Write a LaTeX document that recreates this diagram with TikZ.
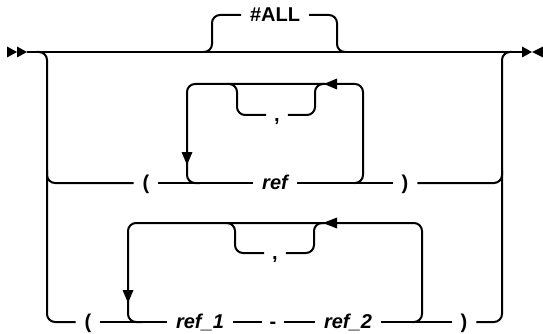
\documentclass[tikz,border=0pt]{standalone}
\usepackage{fontspec}
\setmainfont{Liberation Sans}
\begin{document}
\begin{tikzpicture}[x=1pt,y=-1pt,line width=2pt,
  rr/.style={rounded corners=8pt},
  lbl/.style={inner xsep=8pt,inner ysep=0pt,text height=12.5pt,text depth=0pt,
    font=\fontsize{20}{22}\selectfont\bfseries},
  var/.style={lbl,font=\fontsize{20}{22}\selectfont\bfseries\itshape},
  tip/.style={fill=black,draw=none}]
\useasboundingbox (0,0) rectangle (543,334);
% main line with start and end markers
\coordinate (s) at (27,52);
\coordinate (e) at (522,52);
\fill[tip] (7,46.5) -- (17,52) -- (7,57.5) -- cycle;
\fill[tip] (17,46.5) -- (27,52) -- (17,57.5) -- cycle;
\fill[tip] (522,46.5) -- (532,52) -- (522,57.5) -- cycle;
\fill[tip] (543,46.5) -- (532,52) -- (543,57.5) -- cycle;
\draw (s) -- (e);
% #ALL branch
\node[lbl] (all) at (275,15) {\#ALL};
\draw[rr] (203,52) -| (212,15) -- (all.west);
\draw[rr] (all.east) -| (337,52) -- (346,52);
% row 2
\node[lbl] (lp1) at (146,183) {(};
\node[var] (ref) at (275,183) {ref};
\node[lbl] (rp1) at (405,183) {)};
\draw[rr] (47,170) |- (lp1.west);
\draw (lp1.east) -- (ref.west);
\draw (ref.east) -- (rp1.west);
\draw[rr] (rp1.east) -| (502,170);
% loop row 2
\draw[rr] (354,183) -| (363,84) -| (187,183) -- (200,183);
\fill[tip] (324,84) -- (337,78.5) -- (337,89.5) -- cycle;
\fill[tip] (187,165) -- (181.5,152) -- (192.5,152) -- cycle;
\node[lbl,inner xsep=7pt] (c1) at (277,115) {,};
\draw[rr] (228,84) -| (237,115) -- (c1.west);
\draw[rr] (c1.east) -| (315,84) -- (324,84);
% row 3
\node[lbl] (lp2) at (88,322) {(};
\node[var] (r1) at (200,322) {ref\_1};
\node[lbl,inner xsep=7pt] (dash) at (273,322) {-};
\node[var] (r2) at (348,322) {ref\_2};
\node[lbl] (rp2) at (464,322) {)};
\draw[rr] (37,52) -| (47,322) -- (lp2.west);
\draw (lp2.east) -- (r1.west);
\draw (r1.east) -- (dash.west);
\draw (dash.east) -- (r2.west);
\draw (r2.east) -- (rp2.west);
\draw[rr] (rp2.east) -| (502,52) -- (512,52);
% loop row 3
\draw[rr] (412,322) -| (422,223) -| (128,322) -- (142,322);
\fill[tip] (323,223) -- (337,217.5) -- (337,228.5) -- cycle;
\fill[tip] (128,303) -- (122.5,290) -- (133.5,290) -- cycle;
\node[lbl,inner xsep=7pt] (c2) at (275,253) {,};
\draw[rr] (228,223) -| (235,253) -- (c2.west);
\draw[rr] (c2.east) -| (314,223) -- (323,223);
\end{tikzpicture}
\end{document}
